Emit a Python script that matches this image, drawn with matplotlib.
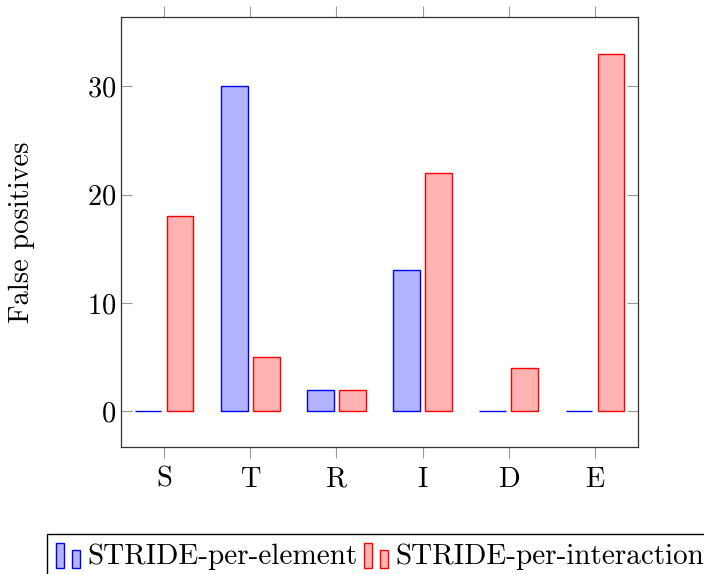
import matplotlib
matplotlib.use("Agg")
import matplotlib.pyplot as plt
from matplotlib.patches import Rectangle
from matplotlib.legend_handler import HandlerBase
import numpy as np

plt.rcParams['font.family'] = 'cmr10'
plt.rcParams['axes.formatter.use_mathtext'] = True

categories = ['S', 'T', 'R', 'I', 'D', 'E']
per_element = [0, 30, 2, 13, 0, 0]
per_interaction = [18, 5, 2, 22, 4, 33]
series_names = ['STRIDE-per-element', 'STRIDE-per-interaction']

blue_edge, blue_fill = '#0000ff', '#b3b3ff'
red_edge, red_fill = '#ff0000', '#ffb3b3'
fs = 20.5


class BarPairHandler(HandlerBase):
    # pgfplots style ybar legend image: two little bars
    def create_artists(self, legend, orig_handle, xdescent, ydescent,
                       width, height, fontsize, trans):
        fc = orig_handle.get_facecolor()
        ec = orig_handle.get_edgecolor()
        bw = width / 3
        y0 = -ydescent - height * 0.2
        r1 = Rectangle((-xdescent, y0), bw, height * 1.2,
                       facecolor=fc, edgecolor=ec, lw=1, transform=trans)
        r2 = Rectangle((-xdescent + 2 * bw, y0), bw, height * 0.9,
                       facecolor=fc, edgecolor=ec, lw=1, transform=trans)
        return [r1, r2]


fig = plt.figure(figsize=(7.04, 5.74), dpi=100)
ax = fig.add_axes([121 / 704, 1 - 447 / 574, 517 / 704, 430 / 574])

x = np.arange(len(categories))
bw = 0.31
b1 = ax.bar(x - 0.185, per_element, bw, facecolor=blue_fill, edgecolor=blue_edge, lw=1,
            label=series_names[0])
b2 = ax.bar(x + 0.185, per_interaction, bw, facecolor=red_fill, edgecolor=red_edge, lw=1,
            label=series_names[1])

ax.set_xlim(-0.5, 5.5)
ax.set_ylim(-3.3, 36.4)
ax.set_xticks(x)
ax.set_xticklabels(categories)
ax.set_yticks([0, 10, 20, 30])
ax.tick_params(axis='x', direction='out', length=8, width=0.8, color='#999999',
               top=True, labelsize=fs, pad=6)
ax.tick_params(axis='y', direction='in', length=8, width=0.8, color='#999999',
               right=True, labelsize=fs)
for s in ax.spines.values():
    s.set_linewidth(0.9)
    s.set_color('#333333')
ax.set_ylabel('False positives', fontsize=fs)
ax.yaxis.set_label_coords(-0.166, 0.5)

fig.legend(handles=[b1.patches[0], b2.patches[0]], labels=series_names,
           handler_map={Rectangle: BarPairHandler()},
           loc='upper left', bbox_to_anchor=(47 / 704, 1 - 534 / 574),
           ncol=2, prop={'size': 21}, frameon=True, fancybox=False, framealpha=1,
           edgecolor='black', handlelength=0.82, handletextpad=0.25,
           columnspacing=0.21, borderpad=0.32, borderaxespad=0)

fig.savefig('out.png', dpi=100)
